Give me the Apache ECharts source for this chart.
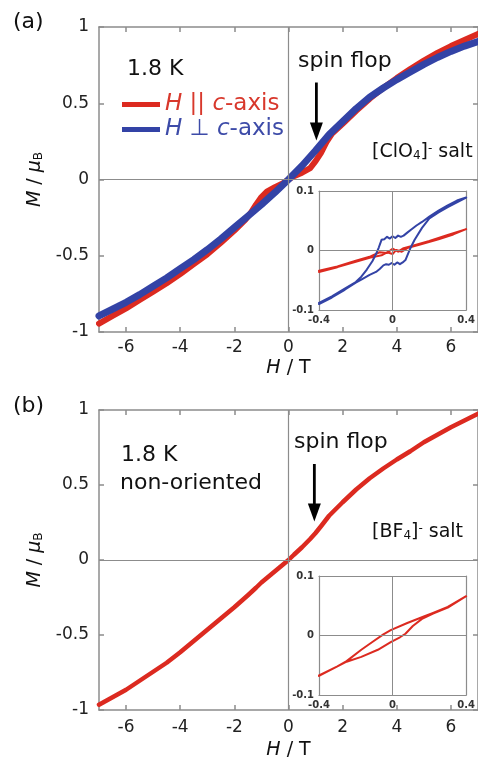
<!DOCTYPE html>
<html>
<head>
<meta charset="utf-8">
<style>
  html, body { margin: 0; padding: 0; background: #fff; }
  #chart { width: 478px; height: 761px; }
</style>
<script src="https://cdn.jsdelivr.net/npm/echarts@6/dist/echarts.min.js"></script>
</head>
<body>
<div id="chart"></div>
<script>
// ---- data: magnetisation M (μB) vs field H (T) at 1.8 K ----
// (a) [ClO4]- salt, H || c-axis
const hParA = [-7,-6.5,-6,-5.5,-5,-4.5,-4,-3.5,-3,-2.5,-2,-1.6,-1.4,-1.2,-1,-0.8,-0.5,-0.2,0,0.2,0.5,0.8,1,1.2,1.4,1.6,2,2.5,3,3.5,4,4.5,5,5.5,6,6.5,7];
const mParA = [-0.945,-0.895,-0.845,-0.79,-0.735,-0.68,-0.62,-0.555,-0.49,-0.415,-0.335,-0.265,-0.22,-0.165,-0.115,-0.08,-0.05,-0.025,0,0.022,0.045,0.075,0.12,0.175,0.245,0.30,0.365,0.45,0.53,0.60,0.665,0.725,0.78,0.83,0.875,0.915,0.955];
// (a) [ClO4]- salt, H ⊥ c-axis
const hPerpA = [-7,-6.5,-6,-5.5,-5,-4.5,-4,-3.5,-3,-2.5,-2,-1.5,-1,-0.5,0,0.5,1,1.5,2,2.5,3,3.5,4,4.5,5,5.5,6,6.5,7];
const mPerpA = [-0.895,-0.85,-0.805,-0.755,-0.70,-0.645,-0.585,-0.525,-0.46,-0.39,-0.315,-0.24,-0.165,-0.085,0,0.09,0.19,0.295,0.38,0.465,0.54,0.60,0.655,0.705,0.755,0.80,0.84,0.875,0.905];
// (a) low-field loops (inset)
const hParInA = [-0.4,-0.3,-0.2,-0.12,-0.06,-0.03,0,0.02,0.05,0.08,0.15,0.25,0.33,0.4, 0.4,0.3,0.2,0.1,0.06,0.03,0,-0.03,-0.07,-0.12,-0.2,-0.3,-0.4];
const mParInA = [-0.036,-0.028,-0.019,-0.012,-0.008,-0.003,-0.006,0.001,-0.002,0.004,0.010,0.019,0.027,0.036, 0.038,0.026,0.016,0.007,0.004,-0.002,0.003,-0.004,-0.003,-0.010,-0.017,-0.027,-0.034];
const hPerpInA = [-0.4,-0.33,-0.26,-0.2,-0.17,-0.125,-0.09,-0.07,-0.05,-0.035,-0.02,-0.005,0.01,0.025,0.04,0.055,0.07,0.085,0.1,0.12,0.16,0.2,0.25,0.3,0.35,0.4,
                  0.4,0.35,0.3,0.25,0.2,0.16,0.13,0.1,0.08,0.06,0.045,0.03,0.015,0,-0.015,-0.03,-0.045,-0.06,-0.075,-0.09,-0.11,-0.14,-0.17,-0.2,-0.26,-0.33,-0.4];
const mPerpInA = [-0.090,-0.079,-0.066,-0.054,-0.049,-0.041,-0.036,-0.031,-0.025,-0.023,-0.024,-0.021,-0.024,-0.020,-0.023,-0.020,-0.016,-0.005,0.006,0.018,0.038,0.054,0.064,0.073,0.081,0.089,
                  0.092,0.084,0.076,0.067,0.057,0.048,0.042,0.035,0.030,0.025,0.023,0.025,0.021,0.024,0.020,0.023,0.019,0.018,0.005,-0.006,-0.018,-0.032,-0.044,-0.053,-0.064,-0.077,-0.088];
// (b) [BF4]- salt, non-oriented
const hB = [-7,-6.5,-6,-5.5,-5,-4.5,-4,-3.5,-3,-2.5,-2,-1.5,-1.2,-1,-0.8,-0.5,-0.2,0,0.2,0.5,0.8,1,1.2,1.5,2,2.5,3,3.5,4,4.5,5,5.5,6,6.5,7];
const mB = [-0.965,-0.915,-0.865,-0.805,-0.745,-0.685,-0.615,-0.54,-0.465,-0.39,-0.315,-0.235,-0.185,-0.15,-0.12,-0.075,-0.03,0,0.035,0.085,0.14,0.18,0.225,0.295,0.385,0.47,0.545,0.61,0.67,0.725,0.785,0.835,0.885,0.93,0.975];
// (b) low-field loop (inset)
const hInB = [-0.4,-0.3,-0.25,-0.17,-0.08,-0.01,0.04,0.07,0.11,0.16,0.22,0.3,0.4, 0.4,0.3,0.22,0.17,0.08,-0.01,-0.05,-0.11,-0.17,-0.25,-0.3,-0.4];
const mInB = [-0.068,-0.052,-0.044,-0.036,-0.024,-0.011,-0.003,0.003,0.016,0.028,0.037,0.047,0.066, 0.066,0.048,0.038,0.032,0.021,0.009,0.002,-0.011,-0.024,-0.043,-0.052,-0.067];

// ticks and labels
const mainTicks = [-6,-4,-2,0,2,4,6];
const nameA = 'H || c-axis';
const nameB = 'H ⊥ c-axis';
// spin-flop arrows: [H, tail M, tip M]
const arrowA = [1.03, 0.636, 0.256];
const arrowB = [0.955, 0.64, 0.257];

const RED = '#dc2a20';
const BLUE = '#3343a6';
const AXIS = '#8c8c8c';
const FONT = 'DejaVu Sans';

const zip = (hs, ms) => hs.map((h, i) => [h, ms[i]]);

function mainX(grid, gap, lblMargin) {
  return [
    { gridIndex: grid, type: 'value', position: 'bottom', min: -7, max: 7,
      axisLine: { onZero: false, lineStyle: { color: AXIS, width: 1.5 } },
      axisTick: { inside: true, length: 5, customValues: mainTicks, lineStyle: { color: AXIS, width: 1.5 } },
      axisLabel: { customValues: mainTicks, margin: lblMargin, color: '#222', fontSize: 17, fontFamily: FONT },
      splitLine: { show: false },
      name: '{i|H} / T', nameLocation: 'middle', nameGap: gap,
      nameTextStyle: { color: '#111', fontSize: 19, fontFamily: FONT,
        rich: { i: { fontStyle: 'italic', fontSize: 19, fontFamily: FONT, color: '#111' } } } },
    { gridIndex: grid, type: 'value', position: 'top', min: -7, max: 7,
      axisLine: { onZero: false, lineStyle: { color: AXIS, width: 1.5 } },
      axisTick: { inside: true, length: 5, customValues: mainTicks, lineStyle: { color: AXIS, width: 1.5 } },
      axisLabel: { show: false }, splitLine: { show: false } }
  ];
}
function mainY(grid) {
  return [
    { gridIndex: grid, type: 'value', position: 'left', min: -1, max: 1, interval: 0.5,
      axisLine: { onZero: false, lineStyle: { color: AXIS, width: 1.5 } },
      axisTick: { inside: true, length: 5, lineStyle: { color: AXIS, width: 1.5 } },
      axisLabel: { margin: 10, color: '#222', fontSize: 17, fontFamily: FONT },
      splitLine: { show: false },
      name: '{i|M} / {i|μ}{s|B}', nameLocation: 'middle', nameGap: 43,
      nameTextStyle: { color: '#111', fontSize: 19, fontFamily: FONT,
        rich: {
          i: { fontStyle: 'italic', fontSize: 19, fontFamily: FONT, color: '#111' },
          s: { fontSize: 12, fontFamily: FONT, color: '#111', verticalAlign: 'bottom', lineHeight: 12, padding: [10, 0, 0, 0] }
        } } },
    { gridIndex: grid, type: 'value', position: 'right', min: -1, max: 1, interval: 0.5,
      axisLine: { onZero: false, lineStyle: { color: AXIS, width: 1.5 } },
      axisTick: { inside: true, length: 5, lineStyle: { color: AXIS, width: 1.5 } },
      axisLabel: { show: false }, splitLine: { show: false } }
  ];
}
const insetLabel = { color: '#333', fontSize: 10, fontWeight: 'bold', fontFamily: FONT };
function insetX(grid) {
  return [
    { gridIndex: grid, type: 'value', position: 'bottom', min: -0.4, max: 0.4, interval: 0.4,
      axisLine: { onZero: false, lineStyle: { color: AXIS, width: 1.2 } },
      axisTick: { show: false }, axisLabel: Object.assign({ margin: 5 }, insetLabel), splitLine: { show: false } },
    { gridIndex: grid, type: 'value', position: 'top', min: -0.4, max: 0.4,
      axisLine: { onZero: false, lineStyle: { color: AXIS, width: 1.2 } },
      axisTick: { show: false }, axisLabel: { show: false }, splitLine: { show: false } }
  ];
}
function insetY(grid) {
  return [
    { gridIndex: grid, type: 'value', position: 'left', min: -0.1, max: 0.1, interval: 0.1,
      axisLine: { onZero: false, lineStyle: { color: AXIS, width: 1.2 } },
      axisTick: { show: false }, axisLabel: Object.assign({ margin: 5 }, insetLabel), splitLine: { show: false } },
    { gridIndex: grid, type: 'value', position: 'right', min: -0.1, max: 0.1,
      axisLine: { onZero: false, lineStyle: { color: AXIS, width: 1.2 } },
      axisTick: { show: false }, axisLabel: { show: false }, splitLine: { show: false } }
  ];
}

// gray zero lines drawn beneath the curves
function zeroLines(xi, yi, w) {
  return {
    type: 'line', data: [], xAxisIndex: xi, yAxisIndex: yi, z: 1, silent: true,
    markLine: { silent: true, symbol: 'none', animation: false, label: { show: false },
      lineStyle: { color: AXIS, width: w, type: 'solid' },
      data: [{ xAxis: 0 }, { yAxis: 0 }] }
  };
}
function curve(name, pts, xi, yi, color, width, z) {
  return { type: 'line', name: name, data: pts, xAxisIndex: xi, yAxisIndex: yi,
    showSymbol: false, symbol: 'none', smooth: false, z: z, color: color,
    itemStyle: { color: color }, lineStyle: { color: color, width: width, cap: 'round', join: 'round' } };
}

const legendRich = {
  ri: { color: '#d8382c', fontStyle: 'italic', fontSize: 23, fontFamily: FONT, lineHeight: 26 },
  r:  { color: '#d8382c', fontSize: 23, fontFamily: FONT, lineHeight: 26 },
  bi: { color: '#3d4ba8', fontStyle: 'italic', fontSize: 23, fontFamily: FONT, lineHeight: 26 },
  b:  { color: '#3d4ba8', fontSize: 23, fontFamily: FONT, lineHeight: 26 }
};

const option = {
  animation: false,
  backgroundColor: '#fff',
  grid: [
    { left: 99, top: 27, width: 381, height: 305 },
    { left: 319, top: 191, width: 153, height: 119 },
    { left: 99, top: 410, width: 381, height: 303 },
    { left: 319, top: 576, width: 152, height: 119 }
  ],
  xAxis: [].concat(mainX(0, 27, 7), insetX(1), mainX(2, 31, 9), insetX(3)),
  yAxis: [].concat(mainY(0), insetY(1), mainY(2), insetY(3)),
  legend: {
    orient: 'vertical', left: 117, top: 88, itemWidth: 38, itemHeight: 5, itemGap: 2,
    icon: 'rect', selectedMode: false, data: [nameA, nameB],
    textStyle: { fontSize: 23, fontFamily: FONT, rich: legendRich },
    formatter: n => n === nameA ? '{ri|H}{r| || }{ri|c}{r|-axis}' : '{bi|H}{b| ⊥ }{bi|c}{b|-axis}'
  },
  series: [
    zeroLines(0, 0, 1.2),
    curve(nameA, zip(hParA, mParA), 0, 0, RED, 6, 2),
    curve(nameB, zip(hPerpA, mPerpA), 0, 0, BLUE, 7, 3),
    zeroLines(2, 2, 1),
    curve(nameA, zip(hParInA, mParInA), 2, 2, RED, 2, 2),
    curve(nameB, zip(hPerpInA, mPerpInA), 2, 2, BLUE, 2, 3),
    zeroLines(4, 4, 1.2),
    curve('[BF4]- salt', zip(hB, mB), 4, 4, RED, 4.5, 2),
    zeroLines(6, 6, 1),
    curve('[BF4]- salt loop', zip(hInB, mInB), 6, 6, RED, 2, 2)
  ]
};

const chart = echarts.init(document.getElementById('chart'), null, { renderer: 'canvas' });
chart.setOption(option);

function txt(x, y, text, size, extra) {
  return { type: 'text', x: x, y: y, z: 10,
    style: Object.assign({ text: text, fill: '#111', fontSize: size, fontFamily: FONT,
      textAlign: 'left', textVerticalAlign: 'middle' }, extra || {}) };
}
const saltRich = {
  rich: {
    sub: { fontSize: 12, fontFamily: FONT, fill: '#111', verticalAlign: 'bottom', lineHeight: 12, padding: [17, 0, 0, 0] },
    sup: { fontSize: 12, fontFamily: FONT, fill: '#111', verticalAlign: 'top', lineHeight: 12, padding: [0, 0, 4, 0] }
  }
};
function arrow(xi, yi, a) {
  const tail = chart.convertToPixel({ xAxisIndex: xi, yAxisIndex: yi }, [a[0], a[1]]);
  const tip = chart.convertToPixel({ xAxisIndex: xi, yAxisIndex: yi }, [a[0], a[2]]);
  const head = 18, half = 6.5;
  return [
    { type: 'line', z: 10, shape: { x1: tail[0], y1: tail[1], x2: tip[0], y2: tip[1] - head + 2 },
      style: { stroke: '#000', lineWidth: 2.8 } },
    { type: 'polygon', z: 10, shape: { points: [[tip[0] - half, tip[1] - head], [tip[0] + half, tip[1] - head], [tip[0], tip[1]]] },
      style: { fill: '#000' } }
  ];
}

chart.setOption({
  graphic: [].concat(
    [
      txt(13, 22, '(a)', 22),
      txt(127, 69, '1.8 K', 22),
      txt(298, 61, 'spin flop', 22),
      txt(372, 152, '[ClO{sub|4}]{sup|-} salt', 19, saltRich),
      txt(13, 406, '(b)', 22),
      txt(121, 455, '1.8 K', 22),
      txt(120, 483, 'non-oriented', 22),
      txt(294, 442, 'spin flop', 22),
      txt(372, 532, '[BF{sub|4}]{sup|-} salt', 19, saltRich)
    ],
    arrow(0, 0, arrowA),
    arrow(4, 4, arrowB)
  )
});
</script>
</body>
</html>
